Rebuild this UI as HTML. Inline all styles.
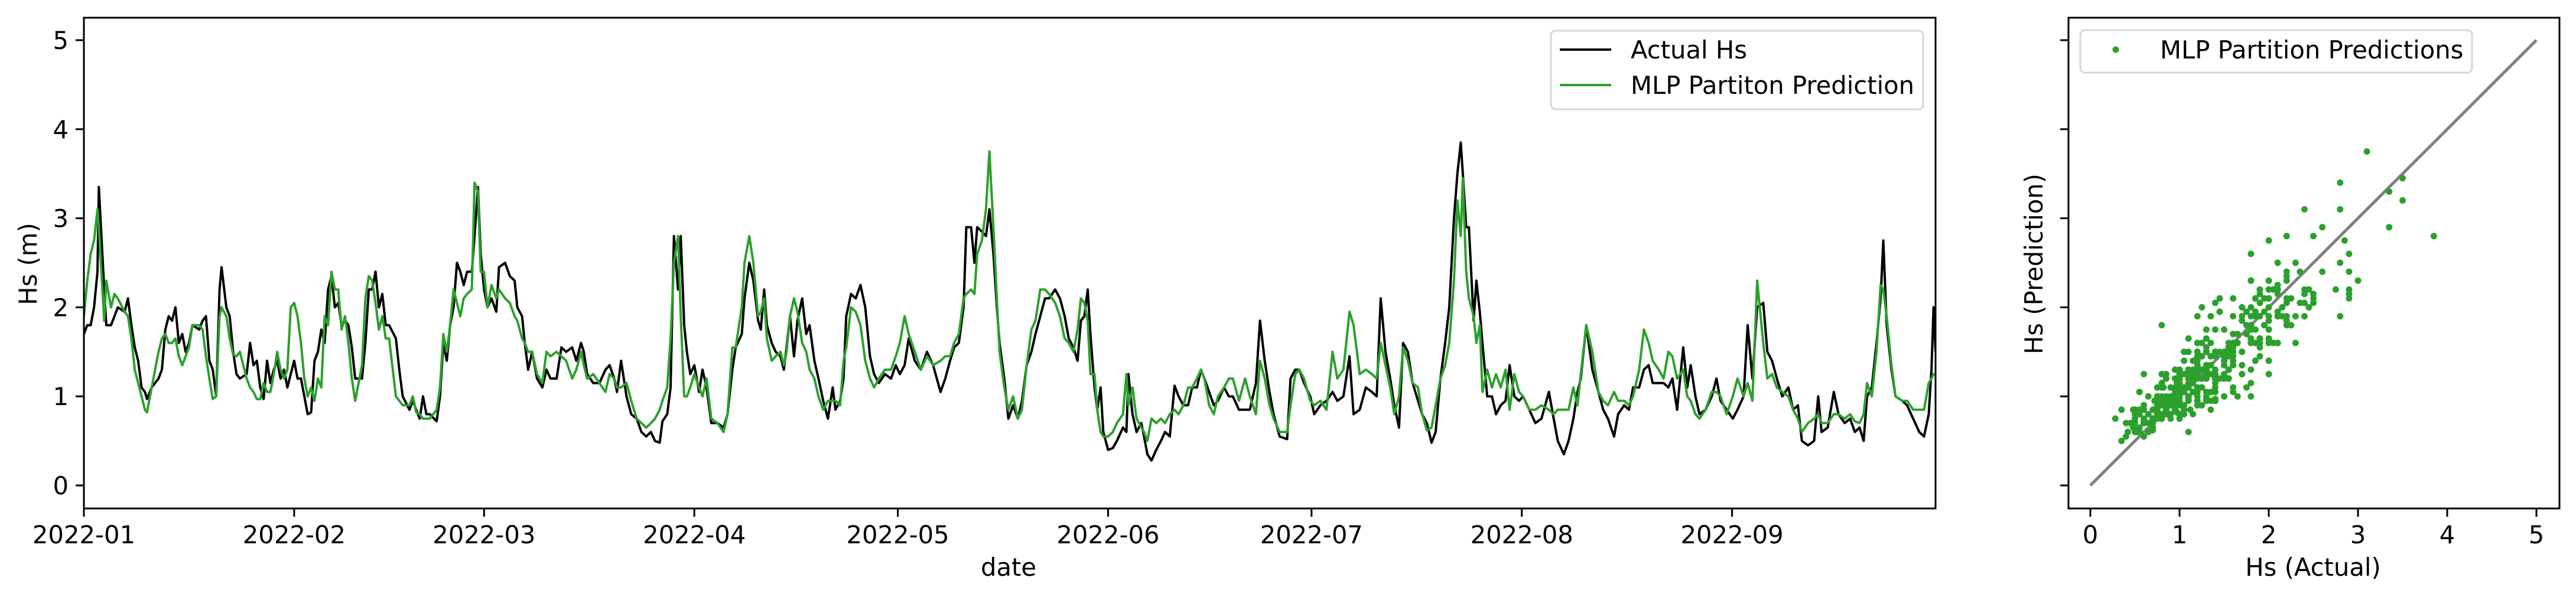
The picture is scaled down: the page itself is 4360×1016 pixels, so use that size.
<!DOCTYPE html>
<html><head><meta charset="utf-8"><style>
html,body{margin:0;padding:0;background:#fff;}
svg{display:block;font-family:"DejaVu Sans","Liberation Sans",sans-serif;}
</style></head><body>
<svg id="fig" width="4360" height="1016" viewBox="0 0 4360 1016" xmlns="http://www.w3.org/2000/svg">
<rect x="0" y="0" width="4360" height="1016" fill="#fff"/>
<g id="main"></g>
<g id="scat"></g>
</svg>
<script>
const days = [0,0.5,1,1.5,2,2.2,3,3.3,4,4.5,5,6,6.5,7,7.5,8,8.5,9,9.3,10,11,11.5,12,12.5,13,13.5,14,14.5,15,15.5,16,17,17.5,18,18.5,19,19.5,20,20.3,21,21.5,22,22.5,23,24,24.5,25,25.5,26,26.5,27,27.5,28,28.5,29,29.5,30,30.5,31,31.5,32,32.5,33,33.5,34,34.5,35,35.5,36,36.5,37,37.5,38,38.5,39,39.5,40,41,41.5,42,42.5,43,43.5,44,44.5,45,46,46.5,47,48,48.5,49,49.5,50,50.5,51,52,52.5,53,53.5,54,54.5,55,55.5,56,56.5,
57.2,57.6,58.1,58.5,59,59.5,60.1,60.8,61.2,62.1,62.8,63.5,63.9,64.6,65,65.5,66.1,66.8,67.6,68.2,68.8,69.7,70.4,71.1,72,72.6,73.3,73.7,74.2,75.1,76,76.9,77.5,78.2,78.6,79.2,80,80.7,81.5,82.2,82.9,83.6,84.2,84.9,85.3,86,86.5,87,87.6,88,88.5,88.9,89.4,90,90.7,91.2,91.8,92.5,93.4,94.3,94.9,95.6,96.1,97,97.4,98.1,98.7,99.4,99.8,100.3,100.7,101.4,102,102.7,103.2,103.6,104.1,104.7,105.2,105.9,106.5,107,107.7,108.3,109,109.7,110.4,110.8,111.5,112,112.4,113.1,113.8,114.5,115.2,115.9,116.5,117.2,118.1,119,119.7,120.3,121,121.6,122.5,123.4,124.3,125.2,126.3,
127,127.7,128.3,129,129.7,130.1,130.8,131.3,131.7,132.4,133,133.5,134.1,134.6,135,135.7,136.3,137,137.7,138.3,139,139.7,140.3,141,141.7,142.3,143.2,143.9,144.6,145.2,145.9,146.5,147,147.5,148,148.4,149,149.4,149.9,150.3,151,151.7,152.3,153.2,153.7,154,154.6,155.2,155.9,156.3,156.8,157.4,158.1,158.8,159.4,160.1,160.8,161.4,162.1,162.8,163.4,164.1,164.7,165.2,165.9,166.6,167.2,168.1,168.8,169.4,170.3,171.2,171.9,172.8,173.4,174.1,174.8,175.4,176.3,177.4,177.9,178.6,179.2,179.9,180.8,181.4,182.3,183.2,184.1,184.8,185.7,186.6,187.2,188.1,189,189.9,190.6,191.2,191.9,192.6,193.2,193.9,194.5,195.2,195.9,
196.7,197.3,198,198.7,199.3,200,200.7,201.3,202,202.5,203,203.3,203.8,204.2,204.9,205.3,205.8,206.2,206.9,207.6,208.2,208.9,209.6,210.2,210.9,211.6,212.2,213.1,214,214.9,216,216.7,217.3,218.2,218.9,219.6,220.2,220.7,221.5,222.4,223.3,224,224.7,225.6,226.2,227.1,227.8,228.4,229.3,230,230.7,231.3,232.2,232.9,233.6,234.2,234.9,235.8,236.4,236.9,237.6,238.2,239.1,240,240.7,241.3,242.2,243.1,243.8,244.7,245.3,246,246.7,247.6,248.2,248.9,249.6,250.4,251.3,252,252.7,253.3,254.2,255.1,255.7,256.2,257.1,258,258.7,259.6,260.4,261.1,261.8,262.4,262.9,263.6,264.3,264.9,265.3,265.8,266.5,267.1,268.1,268.8,269.7,270.6,271.3,272,272.4,272.7,273];
const actualHs = [1.7,1.8,1.8,2.0,2.4,3.35,2.2,1.8,1.8,1.9,2.0,1.95,2.1,1.8,1.55,1.4,1.1,1.05,0.97,1.1,1.2,1.3,1.75,1.9,1.85,2.0,1.6,1.7,1.5,1.6,1.8,1.75,1.85,1.9,1.4,1.3,1.0,2.2,2.45,2.0,1.9,1.5,1.25,1.2,1.25,1.6,1.35,1.4,1.1,0.97,1.4,1.15,1.3,1.4,1.2,1.3,1.1,1.25,1.4,1.2,1.2,1.0,0.8,0.82,1.4,1.5,1.75,1.6,2.2,2.35,2.0,2.05,1.8,1.85,1.8,1.55,1.2,1.2,1.6,2.2,2.2,2.4,2.0,2.15,1.8,1.8,1.65,1.3,1.0,0.85,0.95,0.85,0.75,1.0,0.8,0.8,0.72,1.0,1.6,1.4,1.8,2.0,2.5,2.4,2.25,2.4,
2.4,2.8,3.35,2.6,2.2,2.0,2.1,1.95,2.45,2.5,2.35,2.3,2.0,1.9,1.6,1.3,1.5,1.2,1.1,1.3,1.2,1.2,1.55,1.5,1.55,1.4,1.6,1.5,1.25,1.15,1.15,1.3,1.35,1.2,1.05,1.4,1.0,0.8,0.75,0.6,0.55,0.6,0.5,0.48,0.72,0.8,1.1,2.8,2.2,2.8,1.8,1.5,1.25,1.35,1.05,1.3,1.1,0.7,0.7,0.65,0.8,1.3,1.55,1.7,2.1,2.5,2.3,1.85,1.75,2.2,1.8,1.6,1.5,1.45,1.3,1.55,1.9,1.45,1.85,2.1,1.7,1.8,1.4,1.2,0.95,0.75,1.1,0.85,0.95,1.2,1.9,2.15,2.1,2.25,2.0,1.45,1.25,1.15,1.25,1.2,1.35,1.25,1.35,1.65,1.4,1.3,1.5,1.35,1.05,
1.2,1.4,1.55,1.6,2.0,2.9,2.9,2.5,2.9,2.85,2.8,3.1,2.6,2.0,1.6,1.2,0.75,0.9,0.75,0.95,1.35,1.5,1.7,1.9,2.1,2.1,2.2,2.1,1.9,1.65,1.55,1.4,1.85,1.9,2.2,1.7,1.1,0.85,1.1,0.6,0.4,0.42,0.5,0.65,0.6,1.25,0.8,0.6,0.7,0.55,0.35,0.28,0.4,0.5,0.6,0.55,1.12,1.0,0.9,0.9,1.1,1.1,1.3,1.2,1.05,0.9,0.95,1.1,1.0,1.0,0.85,0.85,0.85,1.15,1.85,1.4,1.05,0.8,0.55,0.52,1.2,1.3,1.3,1.15,1.0,0.8,0.9,0.95,1.05,0.95,1.0,1.45,0.8,0.85,1.1,1.05,1.0,2.1,1.5,1.2,0.9,0.65,1.6,1.5,1.15,
0.95,0.8,0.7,0.48,0.6,1.2,1.6,2.0,3.0,3.5,3.85,3.5,2.9,2.9,1.85,2.3,1.95,1.6,1.0,1.0,0.8,0.9,0.95,1.35,1.0,0.95,1.0,0.85,0.7,0.75,1.05,0.75,0.5,0.35,0.5,0.75,1.05,1.2,1.8,1.3,1.05,0.85,0.75,0.55,0.8,0.9,0.85,1.1,1.1,1.3,1.35,1.15,1.15,1.15,1.1,1.2,0.85,1.55,1.1,1.35,1.0,0.8,0.85,1.0,1.2,0.95,0.85,0.75,0.85,1.0,1.8,1.2,2.0,2.05,1.5,1.4,1.2,1.0,1.1,0.85,0.9,0.5,0.45,0.5,1.0,0.6,0.65,1.05,0.8,0.7,0.75,0.6,0.65,0.5,1.0,1.1,1.6,2.1,2.75,1.8,1.3,1.0,0.95,0.9,0.75,0.6,0.55,0.8,1.3,2.0,1.5];
const predHs = [1.9,2.3,2.6,2.75,3.1,2.9,1.85,2.3,2.0,2.15,2.1,1.95,1.9,1.65,1.3,1.15,1.0,0.85,0.82,1.1,1.5,1.65,1.7,1.6,1.6,1.65,1.45,1.35,1.45,1.55,1.8,1.8,1.75,1.45,1.2,0.97,1.0,1.9,2.0,1.9,1.65,1.47,1.45,1.5,1.2,1.1,1.05,0.97,0.97,1.15,1.05,1.05,1.25,1.5,1.3,1.2,1.3,2.0,2.05,1.9,1.6,1.2,1.0,1.1,0.95,1.2,1.1,1.9,1.8,2.4,2.2,2.2,1.75,1.9,1.6,1.2,0.95,1.35,2.1,2.35,2.3,2.05,1.75,1.9,1.65,1.65,1.0,0.95,0.9,0.9,1.0,0.82,0.8,0.75,0.75,0.75,0.85,1.1,1.7,1.5,1.8,2.2,2.05,1.9,2.1,2.15,
2.2,3.4,3.3,2.4,2.4,2.0,2.25,2.1,2.2,2.1,2.05,1.9,1.85,1.65,1.6,1.5,1.5,1.25,1.15,1.5,1.45,1.5,1.45,1.4,1.2,1.3,1.5,1.35,1.2,1.25,1.15,1.05,1.25,1.2,1.1,1.1,1.15,0.95,0.75,0.7,0.65,0.7,0.75,0.85,0.95,1.1,1.65,2.5,2.8,1.9,1.0,1.0,1.1,1.25,1.1,1.0,1.2,0.75,0.7,0.6,0.8,1.55,1.55,2.0,2.5,2.8,2.5,1.9,1.95,2.1,1.65,1.4,1.45,1.5,1.35,1.5,1.9,2.1,1.95,1.6,1.5,1.3,1.2,1.0,0.85,0.95,0.95,0.95,0.9,1.4,1.55,2.0,1.95,1.8,1.4,1.2,1.1,1.2,1.3,1.3,1.45,1.6,1.9,1.7,1.5,1.3,1.45,1.35,1.4,
1.45,1.45,1.6,1.7,2.1,2.15,2.2,2.15,2.6,2.75,3.1,3.75,2.9,2.1,1.5,1.1,0.85,1.0,0.75,0.85,1.35,1.75,1.85,2.2,2.2,2.15,2.05,1.9,1.65,1.6,1.5,1.75,2.1,2.05,1.85,1.25,1.25,0.85,0.6,0.55,0.55,0.6,0.7,0.8,1.25,0.9,1.1,0.75,0.65,0.6,0.5,0.75,0.7,0.75,0.7,0.8,0.85,0.8,0.9,1.1,1.1,1.2,1.3,1.2,0.9,0.8,1.0,1.1,1.2,1.2,0.95,1.2,1.0,0.8,1.4,1.2,0.9,0.75,0.6,0.6,0.9,1.25,1.3,1.2,0.95,0.9,0.95,0.85,1.5,1.2,1.3,1.95,1.8,1.25,1.3,1.25,1.2,1.6,1.35,1.1,0.8,1.0,1.55,1.4,1.15,
1.1,0.8,0.62,0.65,0.9,1.2,1.35,1.6,2.3,3.2,2.8,3.45,2.4,2.1,1.9,1.6,1.8,1.05,1.3,1.1,1.25,1.1,1.3,0.85,1.25,1.05,1.0,0.85,0.85,0.9,0.85,0.8,0.85,0.85,0.85,1.1,0.9,1.25,1.8,1.5,1.05,0.95,0.9,1.05,0.95,0.95,0.9,1.0,1.3,1.75,1.6,1.4,1.3,1.2,1.5,1.45,1.2,1.3,1.0,0.95,0.8,0.75,0.85,1.05,1.05,1.0,0.8,1.0,1.2,1.0,1.15,0.95,2.3,1.6,1.2,1.25,1.1,1.05,1.0,0.85,0.75,0.6,0.7,0.75,0.8,0.7,0.7,0.8,0.8,0.75,0.8,0.72,0.7,0.8,1.15,1.0,1.5,2.25,2.2,1.9,1.35,1.0,0.95,0.95,0.85,0.85,0.85,1.15,1.2,1.25,1.25];
const monthTickDays = [0,31,59,90,120,151,181,212,243];
const monthTickLabels = ["2022-01","2022-02","2022-03","2022-04","2022-05","2022-06","2022-07","2022-08","2022-09"];
const yTicks = [0,1,2,3,4,5];
const scatterXTicks = [0,1,2,3,4,5];

const NS = "http://www.w3.org/2000/svg";
function mk(parent, tag, attrs, text) {
  const e = document.createElementNS(NS, tag);
  for (const k in attrs) e.setAttribute(k, attrs[k]);
  if (text !== undefined) e.textContent = text;
  parent.appendChild(e);
  return e;
}
const L = 142, R = 3276, T = 30, B = 861, Y0 = 822, YS = 150.8, XMAX = 273;
const xDay = d => L + d * (R - L) / XMAX;
const yVal = v => Y0 - v * YS;
const main = document.getElementById('main');

yTicks.forEach(v => {
  const g = mk(main, 'g', {});
  
  
  mk(g, 'line', {x1: L - 14, x2: L, y1: yVal(v), y2: yVal(v), stroke: '#000', 'stroke-width': 3});
  mk(g, 'text', {x: L - 26, y: yVal(v) + 15, 'text-anchor': 'end', 'font-size': 41.7}, String(v));
});
monthTickDays.forEach((d, i) => {
  const g = mk(main, 'g', {});
  
  
  mk(g, 'line', {x1: xDay(d), x2: xDay(d), y1: B, y2: B + 14, stroke: '#000', 'stroke-width': 3});
  mk(g, 'text', {x: xDay(d), y: 920, 'text-anchor': 'middle', 'font-size': 41.7}, monthTickLabels[i]);
});
const ylab = mk(main, 'text', {x: 0, y: 0, 'text-anchor': 'middle', 'font-size': 41.7, transform: 'translate(62,447) rotate(-90)'}, 'Hs (m)');


const xlab = mk(main, 'text', {x: 1707, y: 975, 'text-anchor': 'middle', 'font-size': 41.7}, 'date');



const clip = mk(mk(document.getElementById('fig'), 'defs', {}), 'clipPath', {id: 'mclip'});
mk(clip, 'rect', {x: L, y: T, width: R - L, height: B - T});
function pathFor(vals) {
  return vals.map((v, i) => (i ? 'L' : 'M') + xDay(days[i]).toFixed(1) + ',' + yVal(v).toFixed(1)).join('');
}
const lineA = mk(main, 'path', {d: pathFor(actualHs), fill: 'none', stroke: '#000', 'stroke-width': 4, 'stroke-linejoin': 'round', 'clip-path': 'url(#mclip)'});


const lineP = mk(main, 'path', {d: pathFor(predHs), fill: 'none', stroke: '#2ca02c', 'stroke-width': 4, 'stroke-linejoin': 'round', 'clip-path': 'url(#mclip)'});


const frame = mk(main, 'rect', {x: L, y: T, width: R - L, height: B - T, fill: 'none', stroke: '#000', 'stroke-width': 3});



const leg = mk(main, 'g', {});


mk(leg, 'rect', {x: 2625, y: 52, width: 630, height: 133, rx: 8, fill: '#fff', 'fill-opacity': 0.8, stroke: '#d6d6d6', 'stroke-width': 3});
const le1 = mk(leg, 'g', {});


mk(le1, 'line', {x1: 2640, x2: 2727, y1: 84, y2: 84, stroke: '#000', 'stroke-width': 4});
mk(le1, 'text', {x: 2760, y: 99, 'font-size': 41.7}, 'Actual Hs');
const le2 = mk(leg, 'g', {});


mk(le2, 'line', {x1: 2640, x2: 2727, y1: 144, y2: 144, stroke: '#2ca02c', 'stroke-width': 4});
mk(le2, 'text', {x: 2760, y: 159, 'font-size': 41.7}, 'MLP Partiton Prediction');

const SL = 3501, SR = 4332, SX0 = 3538, SXS = 151;
const sx = v => SX0 + v * SXS;
const scat = document.getElementById('scat');
yTicks.forEach(v => {
  const t = mk(scat, 'line', {x1: SL - 14, x2: SL, y1: yVal(v), y2: yVal(v), stroke: '#000', 'stroke-width': 3});
  
  
});
scatterXTicks.forEach(v => {
  const g = mk(scat, 'g', {});
  
  
  mk(g, 'line', {x1: sx(v), x2: sx(v), y1: B, y2: B + 14, stroke: '#000', 'stroke-width': 3});
  mk(g, 'text', {x: sx(v), y: 920, 'text-anchor': 'middle', 'font-size': 41.7}, String(v));
});
const diag = mk(scat, 'line', {x1: sx(0), y1: yVal(0), x2: sx(5), y2: yVal(5), stroke: '#808080', 'stroke-width': 5});


const dots = mk(scat, 'g', {fill: '#2ca02c'});


actualHs.forEach((a, i) => {
  const c = mk(dots, 'circle', {cx: sx(a).toFixed(1), cy: yVal(predHs[i]).toFixed(1), r: 5.5});
  
  
});
const sframe = mk(scat, 'rect', {x: SL, y: T, width: SR - SL, height: B - T, fill: 'none', stroke: '#000', 'stroke-width': 3});


const sylab = mk(scat, 'text', {x: 0, y: 0, 'text-anchor': 'middle', 'font-size': 41.7, transform: 'translate(3457,447) rotate(-90)'}, 'Hs (Prediction)');


const sxlab = mk(scat, 'text', {x: 3915, y: 975, 'text-anchor': 'middle', 'font-size': 41.7}, 'Hs (Actual)');


const sleg = mk(scat, 'g', {});


mk(sleg, 'rect', {x: 3521, y: 51, width: 663, height: 72, rx: 8, fill: '#fff', 'fill-opacity': 0.8, stroke: '#d6d6d6', 'stroke-width': 3});
mk(sleg, 'circle', {cx: 3581, cy: 84, r: 5.5, fill: '#2ca02c'});
mk(sleg, 'text', {x: 3656, y: 99, 'font-size': 41.7}, 'MLP Partition Predictions');
</script>
</body></html>
